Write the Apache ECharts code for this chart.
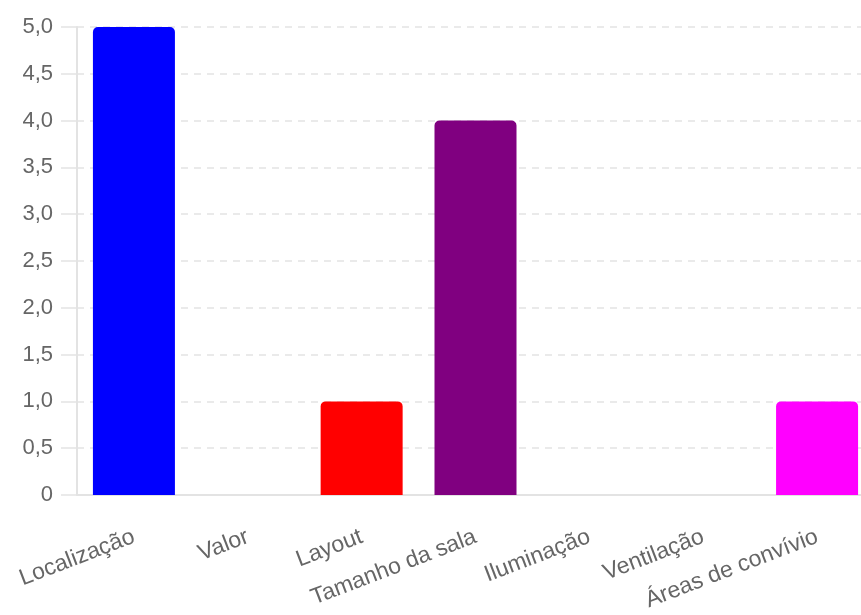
<!DOCTYPE html>
<html>
<head>
<meta charset="utf-8">
<script src="https://cdn.jsdelivr.net/npm/echarts@6/dist/echarts.min.js"></script>
<style>
  html, body { margin: 0; padding: 0; background: #fff; overflow: hidden; }
  /* the plot area runs slightly past the right edge of the window */
  #chart { width: 874px; height: 615px; }
</style>
</head>
<body>
<div id="chart"></div>
<script>
// Aspects rated when choosing a space
const categories = ['Localização', 'Valor', 'Layout', 'Tamanho da sala', 'Iluminação', 'Ventilação', 'Áreas de convívio'];
const values = [5, 0, 1, 4, 0, 0, 1];
const barColors = ['#0000ff', '#00a000', '#ff0000', '#800080', '#ffa500', '#00ced1', '#ff00ff'];

const chart = echarts.init(document.getElementById('chart'));
const textColor = '#666';
const lineColor = '#e3e3e3';
const font = '"Liberation Sans", Arial, Helvetica, sans-serif';

chart.setOption({
  animation: false,
  grid: { left: 77, right: 0, top: 27, bottom: 120, containLabel: false },
  xAxis: {
    type: 'category',
    data: categories,
    axisLine: { show: true, lineStyle: { color: lineColor, width: 2 } },
    axisTick: { show: false },
    axisLabel: {
      interval: 0,
      rotate: 21,
      color: textColor,
      fontSize: 23,
      fontFamily: font,
      margin: 41
    },
    splitLine: { show: false }
  },
  yAxis: {
    type: 'value',
    min: 0,
    max: 5,
    interval: 0.5,
    axisLine: { show: true, lineStyle: { color: lineColor, width: 2 } },
    axisTick: { show: true, length: 16, lineStyle: { color: lineColor, width: 1.5 } },
    axisLabel: {
      color: textColor,
      fontSize: 22,
      fontFamily: font,
      margin: 24,
      formatter: v => v === 0 ? '0' : v.toFixed(1).replace('.', ',')
    },
    splitLine: { show: true, lineStyle: { color: lineColor, type: [7, 6], width: 1.5 } }
  },
  series: [{
    type: 'bar',
    data: values.map((v, i) => ({ value: v, itemStyle: { color: barColors[i] } })),
    barWidth: 82,
    itemStyle: { borderRadius: [5, 5, 0, 0] }
  }]
});
</script>
</body>
</html>
